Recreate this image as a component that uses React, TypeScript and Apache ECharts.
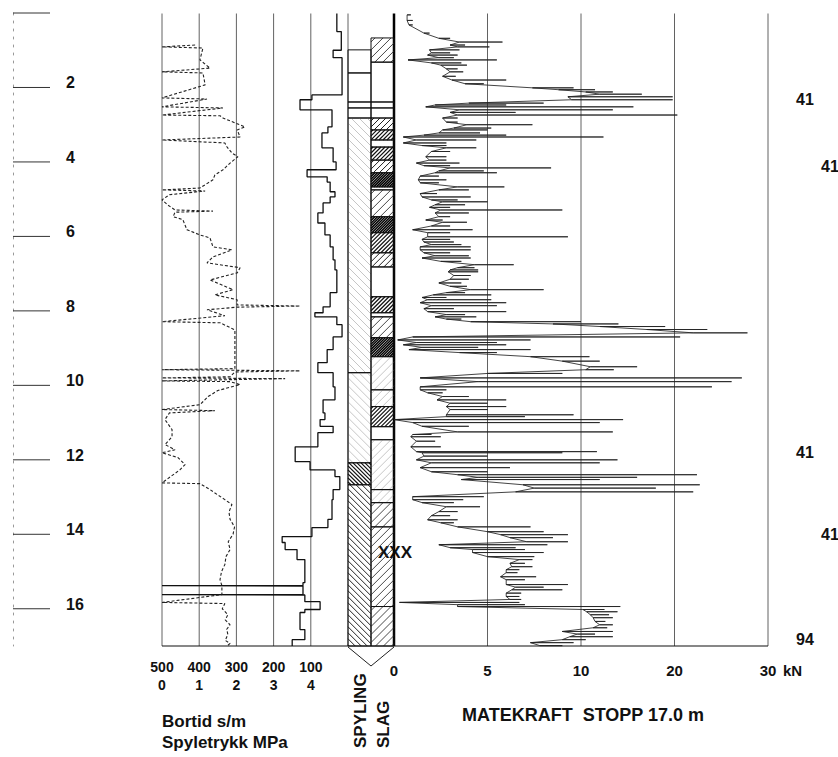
import React, { useEffect, useRef } from 'react';
import * as echarts from 'echarts';

const FF = '"Liberation Sans", Arial, Helvetica, sans-serif';

// Depth scale (m)
const depthTicks = [0, 2, 4, 6, 8, 10, 12, 14, 16];

// Bortid (s/m) as steps: boundaries (m) and value in each interval
const bortidBounds = [0, 0.5, 1.0, 1.2, 2.2, 2.33, 2.6, 3.06, 3.22, 3.62, 4.0, 4.21, 4.4, 4.54, 4.8, 4.94, 5.1, 5.37, 5.64, 5.96, 6.28, 6.63, 6.9, 7.51, 7.89, 8.05, 8.16, 8.37, 8.7, 9.04, 9.39, 9.66, 10.04, 10.39, 10.74, 10.92, 11.1, 11.27, 11.65, 12.05, 12.27, 12.45, 12.8, 13.07, 13.6, 13.82, 14.06, 14.22, 14.41, 14.68, 15.3, 15.38, 15.39, 15.62, 15.63, 15.81, 16.02, 16.1, 16.56, 16.83, 17];
const bortidValues = [30, 18, 40, 16, 97, 129, 43, 54, 70, 40, 32, 110, 56, 48, 35, 48, 67, 81, 62, 48, 40, 35, 30, 48, 67, 89, 30, 16, 40, 56, 81, 40, 35, 67, 62, 75, 40, 81, 142, 102, 35, 22, 40, 43, 54, 97, 177, 169, 137, 116, 121, 500, 121, 500, 116, 75, 116, 129, 116, 150];

// Spyletrykk (MPa): [depth m, pressure MPa]
const spyletrykk: [number, number][] = [
  [0.86, 0.89], [0.91, 0.0], [0.94, 1.1], [1.26, 1.02], [1.48, 1.29], [1.58, 0.0], [1.61, 1.1], [1.93, 1.16],
  [2.28, 0.0], [2.31, 1.21], [2.52, 0.0], [2.55, 1.64], [2.74, 0.0], [2.76, 1.56], [2.82, 1.64], [3.06, 2.23],
  [3.14, 2.02], [3.33, 2.1], [3.41, 0.0], [3.49, 1.69], [3.6, 1.75], [3.76, 1.88], [3.86, 2.04], [4.03, 1.83],
  [4.21, 1.64], [4.35, 1.42], [4.48, 1.37], [4.7, 1.02], [4.75, 0.0], [4.78, 1.16], [4.88, 0.2], [5.02, 0.0],
  [5.16, 0.16], [5.29, 0.35], [5.32, 1.37], [5.35, 0.35], [5.47, 0.3], [5.55, 0.56], [5.82, 0.67], [5.96, 1.02],
  [6.04, 1.29], [6.28, 1.37], [6.36, 1.88], [6.55, 1.37], [6.71, 1.21], [6.84, 2.1], [6.98, 2.02], [7.17, 1.29],
  [7.43, 1.91], [7.57, 1.42], [7.7, 2.02], [7.84, 2.02], [7.87, 3.71], [7.9, 2.02], [7.97, 1.21], [8.13, 1.69],
  [8.29, 0.0], [8.32, 1.56], [8.51, 1.96], [9.45, 1.96], [9.55, 1.96], [9.58, 0.0], [9.61, 3.71], [9.64, 1.96],
  [9.77, 1.83], [9.8, 0.0], [9.82, 3.31], [9.88, 0.0], [9.9, 1.83], [9.98, 2.1], [10.14, 1.5], [10.3, 1.24],
  [10.52, 1.02], [10.65, 0.0], [10.68, 1.42], [10.74, 0.2], [10.92, 0.08], [11.19, 0.27], [11.38, 0.27], [11.59, 0.08],
  [11.73, 0.35], [11.81, 0.0], [11.94, 0.43], [12.13, 0.62], [12.27, 0.48], [12.62, 0.0], [12.64, 1.02], [12.8, 1.29],
  [13.07, 1.69], [13.2, 1.88], [13.4, 1.8], [13.6, 1.83], [13.8, 1.95], [14.0, 1.91], [14.2, 1.78], [14.41, 1.83],
  [14.6, 1.72], [14.81, 1.69], [15.0, 1.6], [15.22, 1.56], [15.38, 1.61], [15.62, 1.61], [15.83, 0.0], [15.86, 1.69],
  [16.0, 1.62], [16.16, 1.77], [16.3, 1.7], [16.43, 1.83], [16.55, 1.74], [16.69, 1.77], [16.85, 1.7], [16.93, 1.83], [17.0, 1.75]
];

// Matekraft (kN): strokes [depth m, low kN, high kN]
const matekraftStrokes: [number, number, number][] = [
  [0.05, 0.7, 0.9], [0.2, 0.7, 1.0], [0.32, 0.8, 1.0], [0.54, 1.6, 1.9], [0.68, 2.4, 3.0], [0.78, 3.5, 5.8], [0.86, 3.0, 3.8],
  [0.91, 3.4, 5.1], [0.99, 1.9, 3.5], [1.07, 2.0, 3.0], [1.13, 1.8, 3.4], [1.2, 2.4, 3.2], [1.26, 0.75, 5.5], [1.34, 2.0, 3.6],
  [1.4, 2.5, 3.9], [1.5, 2.8, 3.4], [1.58, 3.0, 3.7], [1.7, 2.6, 3.3], [1.8, 3.1, 6.0], [1.9, 3.8, 4.8],
  [2.01, 7.4, 9.6], [2.06, 8.8, 11.5], [2.12, 10.5, 13.4], [2.18, 12.0, 16.5], [2.25, 9.3, 19.8], [2.33, 9.5, 19.8],
  [2.42, 4.0, 8.0], [2.47, 2.2, 6.0], [2.52, 1.7, 15.6], [2.6, 3.5, 13.4], [2.67, 3.0, 6.5], [2.74, 3.4, 20.3],
  [2.82, 2.6, 3.4], [2.93, 2.8, 3.4], [3.0, 3.9, 7.4], [3.09, 3.2, 5.2], [3.14, 2.6, 5.0], [3.22, 2.4, 4.6], [3.28, 1.6, 6.0],
  [3.33, 0.5, 12.4], [3.41, 1.2, 4.4], [3.49, 0.5, 2.8], [3.56, 1.5, 2.8], [3.62, 2.8, 4.4], [3.72, 2.0, 3.0], [3.86, 1.7, 2.8],
  [3.95, 1.9, 2.8], [4.03, 1.2, 3.5], [4.1, 1.6, 3.0], [4.16, 3.0, 8.4], [4.24, 2.4, 4.8], [4.29, 2.2, 5.5], [4.38, 1.4, 2.4],
  [4.48, 1.3, 2.8], [4.56, 1.4, 2.4], [4.67, 3.4, 5.9], [4.75, 2.4, 4.0], [4.85, 1.4, 2.3], [4.94, 1.5, 4.1], [5.02, 2.0, 3.4],
  [5.07, 2.6, 5.0], [5.15, 2.2, 3.8], [5.22, 1.9, 3.0], [5.29, 2.5, 9.0], [5.37, 2.2, 4.0], [5.47, 2.4, 3.0], [5.56, 1.7, 2.6],
  [5.62, 2.6, 3.9], [5.72, 2.0, 3.0], [5.82, 1.0, 4.2], [5.9, 1.8, 3.0], [6.01, 1.8, 9.3], [6.08, 1.5, 3.0], [6.15, 1.6, 3.2],
  [6.22, 2.0, 3.6], [6.28, 1.4, 4.1], [6.36, 1.4, 4.1], [6.44, 1.6, 3.0], [6.52, 2.2, 4.0], [6.58, 1.5, 4.1], [6.67, 2.5, 3.6],
  [6.76, 4.3, 6.4], [6.84, 3.4, 4.3], [6.9, 3.0, 4.5], [6.95, 2.9, 4.5], [7.05, 3.2, 4.1], [7.15, 3.0, 4.0], [7.25, 2.4, 3.6],
  [7.34, 3.0, 3.9], [7.43, 4.1, 8.0], [7.51, 2.8, 3.8], [7.57, 2.1, 5.2], [7.64, 1.5, 2.8], [7.7, 1.8, 5.2], [7.78, 1.4, 6.0],
  [7.86, 2.0, 5.5], [7.94, 1.6, 3.2], [8.02, 1.8, 6.0], [8.1, 2.8, 3.8], [8.16, 2.2, 4.4], [8.22, 2.8, 3.6],
  [8.29, 4.1, 10.0], [8.35, 8.5, 14.0], [8.42, 12.0, 19.0], [8.5, 17.0, 23.5], [8.59, 22.0, 27.8], [8.7, 1.0, 20.6],
  [8.78, 0.2, 7.3], [8.85, 1.2, 5.5], [8.91, 0.5, 6.0], [8.98, 1.5, 4.5], [9.04, 0.8, 7.3], [9.12, 3.5, 5.5], [9.23, 7.3, 10.9],
  [9.35, 9.0, 12.0], [9.5, 11.0, 16.0], [9.58, 10.5, 13.5], [9.68, 5.0, 9.0], [9.8, 1.4, 27.2], [9.9, 4.5, 26.1], [10.04, 1.4, 24.0],
  [10.12, 1.4, 2.8], [10.2, 1.8, 2.6], [10.3, 2.6, 4.0], [10.39, 2.3, 6.0], [10.48, 3.0, 5.0], [10.57, 2.8, 6.0], [10.65, 3.0, 5.0],
  [10.79, 2.8, 9.6], [10.84, 2.8, 7.0], [10.92, 0.0, 14.5], [11.0, 1.0, 12.0], [11.1, 1.5, 4.0], [11.25, 3.4, 13.4], [11.32, 1.0, 2.0],
  [11.38, 0.9, 2.5], [11.5, 1.2, 2.2], [11.65, 0.9, 2.5], [11.78, 1.2, 11.7], [11.81, 1.5, 9.0], [11.9, 1.6, 5.0], [12.0, 1.2, 13.9],
  [12.08, 2.0, 12.0], [12.21, 1.4, 6.2], [12.32, 2.0, 5.0], [12.4, 3.4, 22.4], [12.47, 4.5, 16.0], [12.53, 3.6, 12.0],
  [12.67, 6.9, 22.7], [12.76, 7.5, 18.0], [12.86, 6.5, 22.0], [12.99, 1.0, 4.8], [13.07, 1.0, 3.7], [13.15, 1.5, 3.2],
  [13.26, 2.8, 4.6], [13.39, 2.4, 3.4], [13.5, 2.0, 3.0], [13.61, 1.8, 3.4], [13.69, 2.5, 3.2], [13.8, 3.4, 7.3], [13.93, 5.0, 8.0],
  [14.01, 5.7, 9.3], [14.09, 6.2, 8.5], [14.2, 7.1, 9.3], [14.28, 2.4, 8.2], [14.36, 3.0, 6.5], [14.41, 4.2, 7.0], [14.49, 4.2, 8.0],
  [14.6, 5.0, 7.5], [14.68, 6.7, 7.4], [14.78, 6.2, 7.0], [14.87, 6.3, 7.4], [14.95, 6.0, 6.7], [15.03, 6.0, 6.6], [15.14, 5.7, 7.6],
  [15.22, 6.0, 7.0], [15.35, 6.0, 9.3], [15.42, 6.5, 8.0], [15.49, 6.3, 9.0], [15.58, 6.0, 6.8], [15.67, 6.0, 6.7], [15.75, 6.2, 6.8],
  [15.83, 0.3, 6.7], [15.89, 3.4, 7.0], [15.94, 3.4, 14.2], [16.02, 10.2, 12.5], [16.08, 10.6, 13.9], [16.16, 11.0, 13.0],
  [16.24, 11.3, 13.4], [16.34, 11.5, 12.6], [16.43, 12.0, 13.4], [16.51, 11.3, 12.8], [16.61, 9.0, 13.4], [16.68, 9.8, 11.5],
  [16.75, 9.4, 13.4], [16.83, 9.0, 10.5], [16.91, 7.3, 9.6], [16.99, 7.8, 9.0]
];

// SPYLING / SLAG columns: top, bottom (m), hatch style (0 none .. 5 very dense)
const spylingTop = [0.99, 1.61, 2.39, 2.55, 2.82, 9.66, 12.08, 12.67];
const spylingBottom = [1.61, 2.39, 2.55, 2.82, 9.66, 12.08, 12.67, 17];
const spylingStyle = [0, 0, 0, 0, 1, 1, 4, 3];

const slagTop = [0.67, 1.32, 2.39, 2.55, 2.82, 3.14, 3.41, 3.6, 3.95, 4.29, 4.67, 4.75, 5.47, 5.9, 6.44, 6.82, 7.62, 8.05, 8.16, 8.72, 9.23, 10.12, 10.57, 11.11, 11.46, 12.8, 13.15, 13.8, 15.94];
const slagBottom = [1.32, 2.39, 2.55, 2.82, 3.14, 3.41, 3.6, 3.95, 4.29, 4.67, 4.75, 5.47, 5.9, 6.44, 6.82, 7.62, 8.05, 8.16, 8.72, 9.23, 10.12, 10.57, 11.11, 11.46, 12.8, 13.15, 13.8, 15.94, 17];
const slagStyle = [2, 0, 0, 0, 3, 4, 0, 4, 3, 5, 0, 2, 5, 4, 3, 0, 4, 0, 2, 5, 1, 1, 4, 0, 1, 1, 2, 2, 2];

// Axis tick labels
const bortidTicks = [500, 400, 300, 200, 100];
const spyleTicks = [0, 1, 2, 3, 4];
const mkTicks = [0, 5, 10, 20, 30];

// Right-hand annotations
const rightLabelDepth = [2.33, 4.13, 11.81, 14.0, 16.83];
const rightLabelText = ['41', '41', '41', '41', '94'];
const rightLabelIndent = [0, 1, 0, 1, 0];

const HATCH_GAP = [0, 8, 8, 6, 4, 2.6];
const HATCH_W = [0, 0.6, 0.9, 1, 1.2, 1.5];
const HATCH_C = ['#000', '#a0a0a0', '#333', '#222', '#111', '#000'];

// Force axis: 0-10 kN at full scale, 10-30 kN at half scale
const tf = (f: number) => (f <= 10 ? f : 10 + (f - 10) / 2);

export default function App() {
  const ref = useRef<HTMLDivElement>(null);
  useEffect(() => {
    if (!ref.current) return;
    const chart = echarts.init(ref.current, null, { renderer: 'svg' });

    const bortidData: number[][] = [];
    bortidValues.forEach((v, i) => {
      bortidData.push([v, bortidBounds[i]]);
      bortidData.push([v, bortidBounds[i + 1]]);
    });

    const mkData: number[][] = [];
    matekraftStrokes.forEach(([d, lo, hi]) => {
      mkData.push([tf(lo), d]);
      mkData.push([tf(hi), d]);
      mkData.push([tf(lo), d]);
    });

    const columnData: number[][] = [];
    spylingTop.forEach((t, i) => columnData.push([t, spylingBottom[i], spylingStyle[i], 0]));
    slagTop.forEach((t, i) => columnData.push([t, slagBottom[i], slagStyle[i], 1]));

    const renderColumn = (params: any, api: any) => {
      const top = api.value(0), bot = api.value(1), sty = api.value(2), col = api.value(3);
      const a = api.coord([col, top]);
      const b = api.coord([col + 1, bot]);
      const x0 = Math.min(a[0], b[0]), x1 = Math.max(a[0], b[0]);
      const y0 = Math.min(a[1], b[1]), y1 = Math.max(a[1], b[1]);
      const children: any[] = [];
      if (sty > 0) {
        const gap = HATCH_GAP[sty];
        const st = { stroke: HATCH_C[sty], lineWidth: HATCH_W[sty] };
        if (col === 1) {
          for (let c = x0 + y0 + gap / 2; c < x1 + y1; c += gap) {
            const xa = Math.max(x0, c - y1), xb = Math.min(x1, c - y0);
            if (xb > xa) children.push({ type: 'line', shape: { x1: xa, y1: c - xa, x2: xb, y2: c - xb }, style: st });
          }
        } else {
          for (let c = y0 - x1 + gap / 2; c < y1 - x0; c += gap) {
            const xa = Math.max(x0, y0 - c), xb = Math.min(x1, y1 - c);
            if (xb > xa) children.push({ type: 'line', shape: { x1: xa, y1: xa + c, x2: xb, y2: xb + c }, style: st });
          }
        }
      }
      children.push({ type: 'rect', shape: { x: x0, y: y0, width: x1 - x0, height: y1 - y0 }, style: { fill: 'rgba(0,0,0,0)', stroke: '#111', lineWidth: 1 } });
      return { type: 'group', children };
    };

    // horizontal segment across a grid at a given depth
    const renderHLine = (color: string, width: number) => (params: any, api: any) => {
      const a = api.coord([api.value(0), api.value(2)]);
      const b = api.coord([api.value(1), api.value(2)]);
      return { type: 'line', shape: { x1: a[0], y1: a[1], x2: b[0], y2: b[1] }, style: { stroke: color, lineWidth: width } };
    };

    // vertical grid line at a given x value over the full depth
    const renderVLine = (params: any, api: any) => {
      const a = api.coord([api.value(0), 0]);
      const b = api.coord([api.value(0), 17]);
      return { type: 'line', shape: { x1: a[0], y1: a[1], x2: b[0], y2: b[1] }, style: { stroke: '#3a3a3a', lineWidth: 0.8 } };
    };

    const renderLabel = (params: any, api: any) => {
      const p = api.coord([api.value(0), api.value(1)]);
      return {
        type: 'text', x: p[0], y: p[1],
        style: {
          text: rightLabelText[params.dataIndex], fill: '#111', fontFamily: FF, fontWeight: 'bold', fontSize: 16,
          align: 'center', verticalAlign: 'middle', textAlign: 'center', textVerticalAlign: 'middle',
        },
      };
    };

    const hiddenAxis = (gridIndex: number, min: number, max: number, inverse = false) => ({
      gridIndex, type: 'value', min, max, inverse, show: false,
      axisLine: { show: false, onZero: false }, splitLine: { show: false }, axisTick: { show: false }, axisLabel: { show: false },
    });

    const txt = (text: string, x: number, y: number, extra: any = {}, st: any = {}) => ({
      type: 'text', x, y, ...extra,
      style: {
        text, fill: '#111', fontFamily: FF, fontWeight: 'bold', fontSize: 17,
        align: 'left', verticalAlign: 'middle', textAlign: 'left', textVerticalAlign: 'middle', ...st,
      },
    });

    // Tick labels drawn as text marks placed through the axes (below each panel)
    const renderTickLabel = (texts: string[], dy: number, fontSize: number) => (params: any, api: any) => {
      const p = api.coord([api.value(0), 17]);
      return {
        type: 'text', x: p[0], y: p[1] + dy,
        style: {
          text: texts[params.dataIndex], fill: '#111', fontFamily: FF, fontWeight: 'bold', fontSize,
          align: 'center', verticalAlign: 'middle', textAlign: 'center', textVerticalAlign: 'middle',
        },
      };
    };

    const option: any = {
      animation: false,
      backgroundColor: '#ffffff',
      grid: [
        { left: 13, top: 13, width: 37, height: 633, show: false },
        { left: 162, top: 13, width: 186, height: 633, show: false },
        { left: 348, top: 13, width: 46, height: 633, show: false },
        { left: 394, top: 13, width: 374, height: 633, show: false },
        { left: 805, top: 13, width: 25, height: 633, show: false },
      ],
      xAxis: [
        hiddenAxis(0, 0, 1),
        hiddenAxis(1, 0, 500, true),
        hiddenAxis(1, 0, 5),
        hiddenAxis(2, 0, 2),
        hiddenAxis(3, 0, 20),
        hiddenAxis(4, 0, 1),
      ],
      yAxis: [
        {
          gridIndex: 0, type: 'value', min: 0, max: 17, interval: 2, inverse: true, position: 'right',
          axisLine: { show: false, onZero: false }, axisTick: { show: false }, splitLine: { show: false },
          axisLabel: {
            fontFamily: FF, fontWeight: 'bold', fontSize: 16, color: '#111', margin: 16, align: 'left',
            verticalAlign: 'bottom', lineHeight: 9,
            formatter: (v: number) => (depthTicks.includes(v) && v > 0 ? String(v) : ''),
          },
        },
        {
          gridIndex: 0, type: 'value', min: 0, max: 17, inverse: true, position: 'left',
          axisLine: { show: true, onZero: false, lineStyle: { color: '#999', width: 1, type: [2, 6] } },
          axisTick: { show: false }, axisLabel: { show: false }, splitLine: { show: false },
        },
        hiddenAxis(1, 0, 17, true),
        hiddenAxis(2, 0, 17, true),
        hiddenAxis(3, 0, 17, true),
        hiddenAxis(4, 0, 17, true),
      ],
      series: [
        {
          type: 'custom', xAxisIndex: 0, yAxisIndex: 0, renderItem: renderHLine('#333', 1),
          encode: { x: [0, 1], y: 2 }, data: depthTicks.map((d) => [0, 1, d]), silent: true,
        },
        {
          type: 'custom', xAxisIndex: 1, yAxisIndex: 2, renderItem: renderVLine,
          encode: { x: 0 }, data: [[0], [100], [200], [300], [400], [500]], silent: true,
        },
        {
          type: 'custom', xAxisIndex: 4, yAxisIndex: 4, renderItem: renderVLine,
          encode: { x: 0 }, data: mkTicks.map((f) => [tf(f)]), silent: true,
        },
        {
          type: 'custom', xAxisIndex: 1, yAxisIndex: 2, renderItem: renderHLine('#111', 1.2),
          encode: { x: [0, 1], y: 2 }, data: [[0, 500, 17]], silent: true,
        },
        {
          type: 'custom', xAxisIndex: 3, yAxisIndex: 3, renderItem: renderHLine('#111', 1.2),
          encode: { x: [0, 1], y: 2 }, data: [[0, 2, 17]], silent: true,
        },
        {
          type: 'custom', xAxisIndex: 4, yAxisIndex: 4, renderItem: renderHLine('#111', 1.2),
          encode: { x: [0, 1], y: 2 }, data: [[0, 20, 17]], silent: true,
        },
        {
          type: 'custom', xAxisIndex: 4, yAxisIndex: 4,
          renderItem: (params: any, api: any) => {
            const a = api.coord([0, 0]);
            const b = api.coord([0, 17]);
            return { type: 'line', shape: { x1: a[0], y1: a[1], x2: b[0], y2: b[1] }, style: { stroke: '#000', lineWidth: 2.5 } };
          },
          encode: { x: 0 }, data: [[0]], silent: true,
        },
        {
          type: 'custom', xAxisIndex: 1, yAxisIndex: 2, renderItem: renderTickLabel(bortidTicks.map(String), 21, 14),
          encode: { x: 0 }, data: bortidTicks.map((v) => [v]), silent: true,
        },
        {
          type: 'custom', xAxisIndex: 2, yAxisIndex: 2, renderItem: renderTickLabel(spyleTicks.map(String), 39, 14),
          encode: { x: 0 }, data: spyleTicks.map((v) => [v]), silent: true,
        },
        {
          type: 'custom', xAxisIndex: 4, yAxisIndex: 4, renderItem: renderTickLabel(['0', '5', '10', '20', '30'], 24, 15),
          encode: { x: 0 }, data: mkTicks.map((f) => [tf(f)]), silent: true,
        },
        {
          name: 'Bortid', type: 'line', xAxisIndex: 1, yAxisIndex: 2, data: bortidData, clip: false,
          symbol: 'none', lineStyle: { color: '#111', width: 1.3 }, silent: true,
        },
        {
          name: 'Spyletrykk', type: 'line', xAxisIndex: 2, yAxisIndex: 2, clip: false,
          data: spyletrykk.map(([d, p]) => [p, d]),
          symbol: 'none', lineStyle: { color: '#222', width: 1.1, type: [3, 2] }, silent: true,
        },
        {
          type: 'custom', xAxisIndex: 3, yAxisIndex: 3, renderItem: renderColumn,
          encode: { x: 3, y: [0, 1] }, data: columnData, silent: true,
        },
        {
          name: 'Matekraft', type: 'line', xAxisIndex: 4, yAxisIndex: 4, data: mkData, clip: false,
          symbol: 'none', lineStyle: { color: '#222', width: 0.85 }, silent: true,
        },
        {
          type: 'custom', xAxisIndex: 5, yAxisIndex: 5, renderItem: renderLabel,
          encode: { x: 0, y: 1 }, data: rightLabelDepth.map((d, i) => [rightLabelIndent[i], d]), silent: true,
        },
      ],
      graphic: [
        { type: 'rect', z: 100, shape: { x: 150, y: 8, width: 630, height: 5.6 }, style: { fill: '#ffffff' }, silent: true },
        txt('kN', 783, 670, {}, { fontSize: 15 }),
        txt('Bortid s/m', 162, 721),
        txt('Spyletrykk MPa', 162, 742),
        txt('MATEKRAFT  STOPP 17.0 m', 462, 715, {}, { fontSize: 18 }),
        txt('SPYLING', 360, 748, { rotation: Math.PI / 2 }),
        txt('SLAG', 383, 748, { rotation: Math.PI / 2 }),
        txt('XXX', 395, 552, {}, { align: 'center', textAlign: 'center', fontSize: 17 }),
        {
          type: 'polyline', shape: { points: [[348, 647], [371, 666], [394, 647]] },
          style: { stroke: '#222', lineWidth: 1, fill: null },
        },
      ],
    };

    chart.setOption(option);
    return () => chart.dispose();
  }, []);

  return (
    <div
      ref={ref}
      style={{ position: 'fixed', left: 0, top: 0, width: 838, height: 757, background: '#fff' }}
    />
  );
}
